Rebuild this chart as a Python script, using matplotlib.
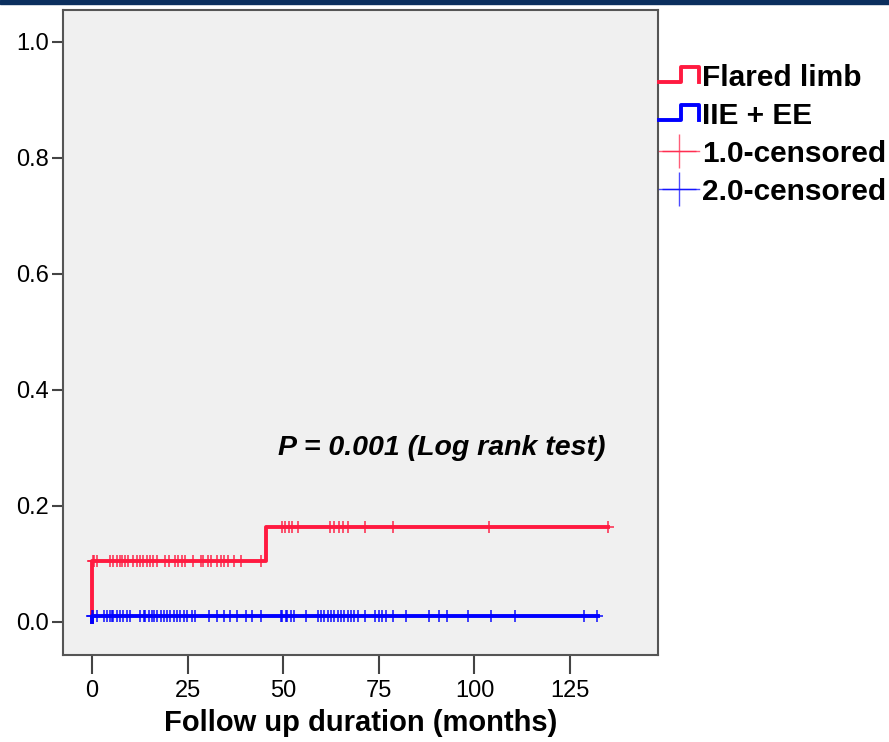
import numpy as np
import matplotlib
matplotlib.use("Agg")
import matplotlib.pyplot as plt
from matplotlib.lines import Line2D
from matplotlib.legend_handler import HandlerBase
from matplotlib.patches import Rectangle

plt.rcParams['font.family'] = ['Liberation Sans', 'DejaVu Sans']

# cumulative incidence curves (step at event times)
red_event_times = [0, 45.6]
red_cum = [0.105, 0.164]
red_end = 134.8

blue_event_times = [0]
blue_cum = [0.011]
blue_end = 132.3

# censored follow-up times (months)
red_censored = [0.2, 0.5, 1.3, 4.7, 5.5, 6.6, 7.4, 7.9, 8.7, 9.5, 10.8, 11.8, 12.6,
                13.4, 14.4, 15.2, 16.0, 17.1, 19.2, 20.0, 21.8, 22.6, 23.6, 24.4,
                26.3, 28.4, 29.1, 30.2, 31.0, 32.8, 33.6, 34.4, 35.5, 37.0, 38.9,
                44.1, 49.6, 50.5, 51.6, 52.4, 53.8, 62.3, 63.4, 64.6, 65.6, 66.9,
                71.5, 78.6, 103.8, 134.8]
blue_censored = [0.0, 0.3, 1.2, 3.0, 3.9, 4.7, 5.2, 5.6, 6.5, 7.4, 8.2, 9.1, 10.0,
                 12.6, 13.5, 13.9, 14.8, 15.7, 16.1, 17.0, 17.9, 18.7, 19.6, 20.5,
                 21.4, 22.2, 23.1, 24.0, 24.9, 26.2, 27.0, 30.6, 32.7, 34.5, 36.2,
                 38.0, 40.2, 41.9, 44.1, 49.4, 49.8, 50.7, 51.1, 52.0, 52.9, 55.9,
                 59.0, 59.9, 60.7, 61.6, 62.5, 63.4, 64.2, 65.1, 66.0, 66.9, 67.7,
                 68.6, 69.5, 71.4, 74.1, 75.0, 75.8, 76.9, 78.6, 82.0, 88.0, 90.8,
                 92.7, 98.2, 104.3, 110.5, 128.6, 132.1]

x_ticks = [0, 25, 50, 75, 100, 125]
y_ticks = [0.0, 0.2, 0.4, 0.6, 0.8, 1.0]

RED = '#ff1a40'
BLUE = '#0000ff'


def step_path(times, cum, end):
    x = [0] + list(times) + [end]
    y = [0] + list(cum) + [cum[-1]]
    return x, y


def level_at(t, times, cum):
    idx = np.searchsorted(times, t, side='right') - 1
    return np.array(cum)[idx]


class StepHandler(HandlerBase):
    # little "_|~|" step icon like SPSS legends
    def create_artists(self, legend, orig_handle, xdescent, ydescent,
                       width, height, fontsize, trans):
        lo = -ydescent + 0.2 * height
        hi = -ydescent + 0.9 * height
        xs = [-xdescent, -xdescent + 0.55 * width, -xdescent + 0.55 * width,
              -xdescent + width, -xdescent + width]
        ys = [lo, lo, hi, hi, lo]
        ln = Line2D(xs, ys, color=orig_handle.get_color(),
                    lw=orig_handle.get_linewidth(), transform=trans)
        return [ln]


fig = plt.figure(figsize=(8.89, 7.42), dpi=100)
fig.patches.append(Rectangle((0, 1 - 4 / 742), 1, 4 / 742, transform=fig.transFigure,
                             color='#0b2f5e', zorder=0))
ax = fig.add_axes([63 / 889, 87 / 742, 595 / 889, 645 / 742])
ax.set_facecolor('#f0f0f0')

rx, ry = step_path(red_event_times, red_cum, red_end)
bx, by = step_path(blue_event_times, blue_cum, blue_end)
l1, = ax.step(rx, ry, where='post', color=RED, lw=2.8, zorder=3)
l2, = ax.step(bx, by, where='post', color=BLUE, lw=2.8, zorder=4)

m1, = ax.plot(red_censored, level_at(red_censored, red_event_times, red_cum),
              ls='none', marker='+', ms=9, mew=1.3, color=RED, alpha=0.8, zorder=5)
m2, = ax.plot(blue_censored, level_at(blue_censored, blue_event_times, blue_cum),
              ls='none', marker='+', ms=9, mew=1.3, color=BLUE, alpha=0.8, zorder=6)

ax.text(91.5, 0.300, 'P = 0.001 (Log rank test)', fontsize=20.5, fontweight='bold',
        fontstyle='italic', ha='center', va='center')

ax.set_xlim(-7.6, 148)
ax.set_ylim(-0.057, 1.055)
ax.set_xticks(x_ticks)
ax.set_yticks(y_ticks)
ax.set_yticklabels(['%.1f' % v for v in y_ticks])
ax.tick_params(axis='x', length=14, width=1.5, color='#444444', labelsize=17, pad=4)
ax.tick_params(axis='y', length=8, width=1.5, color='#444444', labelsize=17, pad=2)
for s in ax.spines.values():
    s.set_color('#555555')
    s.set_linewidth(1.5)
ax.set_xlabel('Follow up duration (months)', fontsize=21, fontweight='bold', labelpad=5)

h3 = Line2D([], [], color=RED, lw=1, marker='+', ms=24, mew=1, alpha=0.7)
h4 = Line2D([], [], color=BLUE, lw=1, marker='+', ms=24, mew=1, alpha=0.7)
fig.legend([l1, l2, h3, h4], ['Flared limb', 'IIE + EE', '1.0-censored', '2.0-censored'],
           loc='upper left', bbox_to_anchor=(659 / 889, 1 - 64 / 742), frameon=False,
           prop={'weight': 'bold', 'size': 21.5}, handlelength=1.35, handletextpad=0.1,
           labelspacing=0.33, borderpad=0, borderaxespad=0,
           handler_map={l1: StepHandler(), l2: StepHandler()})

plt.savefig('out.png', dpi=100)
